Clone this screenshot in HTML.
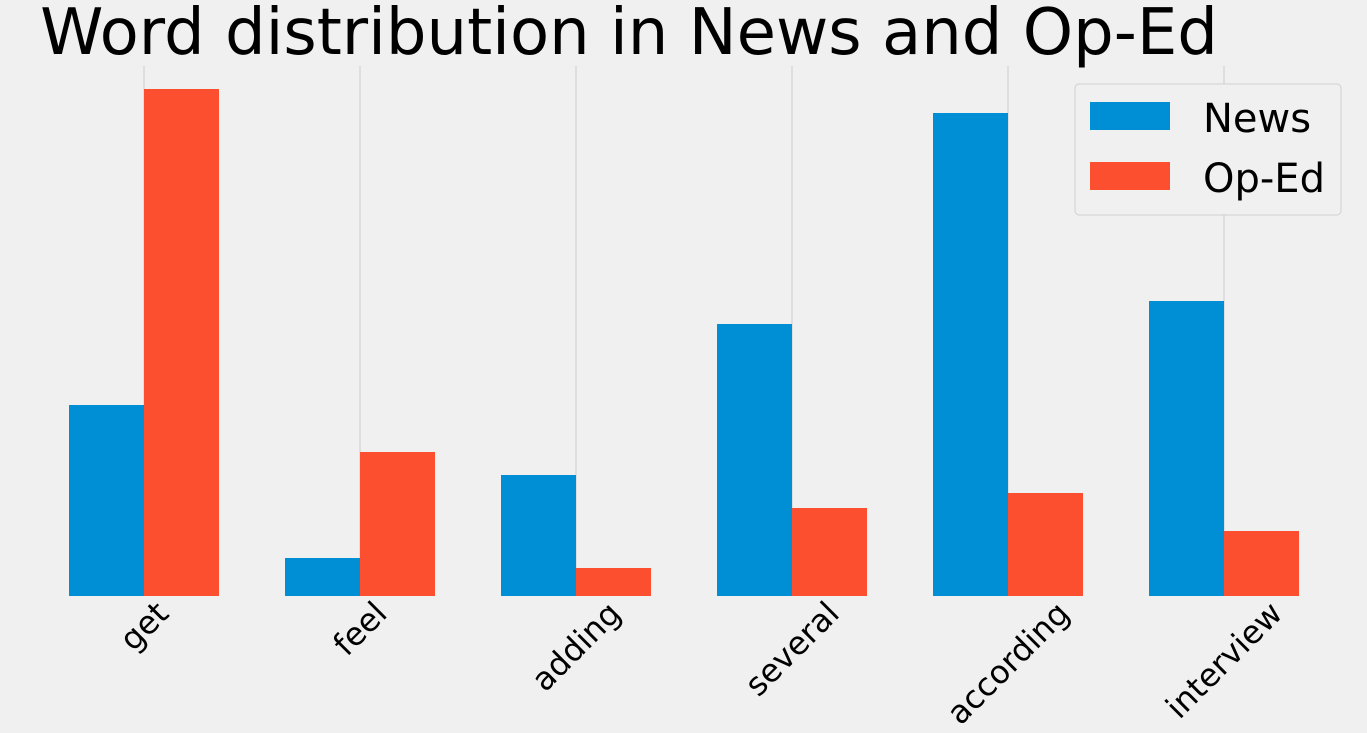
<!DOCTYPE html>
<html><head><meta charset="utf-8"><style>
body{margin:0;background:#f0f0f0;}
svg{display:block;font-family:"DejaVu Sans","Liberation Sans",sans-serif;}
</style></head><body>
<svg id="chart" width="1367" height="733">
<rect width="1367" height="733" fill="#f0f0f0"/>
<text x="629" y="54" font-size="64" text-anchor="middle" fill="#000">Word distribution in News and Op-Ed</text>
<g id="grid"></g><g id="bars"></g><g id="labels"></g>
<g>
<rect x="1075" y="84" width="266" height="131" rx="4" fill="#f0f0f0" stroke="#d0d0d0"/>
<rect x="1090" y="102" width="80" height="28" fill="#008fd5"/>
<text x="1203" y="132" font-size="40">News</text>
<rect x="1090" y="162" width="80" height="28" fill="#fc4f30"/>
<text x="1203" y="192" font-size="40">Op-Ed</text>
</g>
</svg>
<script>
const categories=["get","feel","adding","several","according","interview"];
const newsValues=[191,38,121,272,483,295];
const opedValues=[507,144,28,88,103,65];
const NS="http://www.w3.org/2000/svg";
const x0=144,step=216,bw=75,base=596,plotTop=66,yMax=530;
function xC(i){return x0+i*step;}
function yS(v){return base-v/yMax*(base-plotTop);}
const grid=document.getElementById('grid'),bars=document.getElementById('bars'),labels=document.getElementById('labels');
function mk(tag,attrs,parent){const e=document.createElementNS(NS,tag);for(const k in attrs)e.setAttribute(k,attrs[k]);parent.appendChild(e);return e;}
categories.forEach((c,i)=>{
  const g=mk('line',{x1:xC(i),x2:xC(i),y1:plotTop,y2:base,stroke:'#cbcbcb','stroke-width':1},grid);
  
  
  const b1=mk('rect',{x:xC(i)-bw,y:yS(newsValues[i]),width:bw,height:base-yS(newsValues[i]),fill:'#008fd5'},bars);
  
  
  const b2=mk('rect',{x:xC(i),y:yS(opedValues[i]),width:bw,height:base-yS(opedValues[i]),fill:'#fc4f30'},bars);
  
  
  const t=mk('text',{x:0,y:0,'font-size':32,'text-anchor':'middle','dominant-baseline':'central',fill:'#000'},labels);
  t.textContent=c;
  
  
  const w=t.getComputedTextLength(),h=30;
  const cx=xC(i),cy=597+(w+h)*0.7071/2;
  t.setAttribute('transform',`translate(${cx} ${cy}) rotate(-45)`);
});
</script>
</body></html>
